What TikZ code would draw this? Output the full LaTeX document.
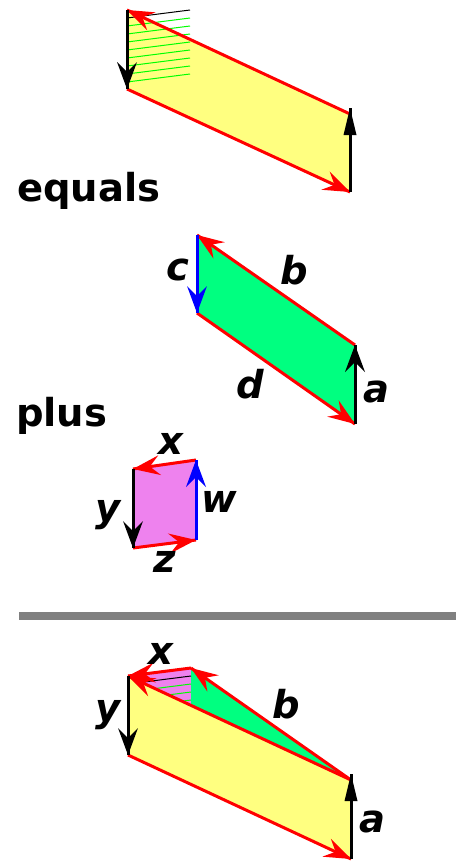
\documentclass[tikz,border=0pt]{standalone}
\usepackage{fontspec}
\setmainfont{DejaVu Sans}
\usetikzlibrary{arrows.meta}
\definecolor{pyellow}{RGB}{255,255,128}
\definecolor{pgreen}{RGB}{0,255,128}
\definecolor{pviolet}{RGB}{238,130,238}
\definecolor{pgray}{RGB}{128,128,128}
\pgfarrowsdeclare{bigtip}{bigtip}{\pgfarrowsrightextend{0pt}\pgfarrowsleftextend{-16pt}}{%
  \pgfsetlinewidth{0pt}%
  \pgfpathmoveto{\pgfpoint{0pt}{0pt}}%
  \pgfpathlineto{\pgfpoint{-27pt}{10pt}}%
  \pgfpathlineto{\pgfpoint{-17pt}{0pt}}%
  \pgfpathlineto{\pgfpoint{-27pt}{-10pt}}%
  \pgfpathclose
  \pgfusepathqfill
}
\pgfarrowsdeclare{slimtip}{slimtip}{\pgfarrowsrightextend{0pt}\pgfarrowsleftextend{-20pt}}{%
  \pgfsetlinewidth{0pt}%
  \pgfpathmoveto{\pgfpoint{0pt}{0pt}}%
  \pgfpathlineto{\pgfpoint{-27pt}{6.5pt}}%
  \pgfpathlineto{\pgfpoint{-27pt}{-6.5pt}}%
  \pgfpathclose
  \pgfusepathqfill
}
\tikzset{
  x=1pt,y=-1pt,
  edge/.style={line width=3pt,-bigtip},
  red edge/.style={edge,draw=red,fill=red},
  black edge/.style={edge,draw=black},
  slim edge/.style={line width=3pt,draw=black,-slimtip},
  blue edge/.style={edge,draw=blue},
  word/.style={font=\bfseries\fontsize{38.5}{42}\selectfont,anchor=base west,inner sep=0pt},
  letter/.style={font=\bfseries\itshape\fontsize{38.5}{42}\selectfont,anchor=base,inner sep=0pt},
  hatch/.style={line width=1pt,draw=green},
  hatchk/.style={line width=1pt,draw=black}
}
\begin{document}
\begin{tikzpicture}
\useasboundingbox (0,0) rectangle (462,862);
% top parallelogram
\coordinate (a1) at (127,10);
\coordinate (b1) at (127,89);
\coordinate (c1) at (350,192);
\coordinate (d1) at (350,114);
\coordinate (t1) at (350,108);
\fill[pyellow] (a1)--(b1)--(c1)--(d1)--cycle;
\draw[hatchk] (127,18)--(190,10);
\foreach \y in {18,26,34,42,50,58,66,74}{
  \draw[hatch] (127,\y+8)--(190,\y);
}
\draw[red edge] (d1)--(a1);
\draw[red edge] (b1)--(c1);
\draw[black edge] (a1)--(b1);
\draw[slim edge] (c1)--(t1);
\node[word] (equals) at (17,201) {equals};
% middle parallelogram
\coordinate (a2) at (197,235);
\coordinate (b2) at (197,313);
\coordinate (c2) at (355,424);
\coordinate (d2) at (355,345);
\fill[pgreen] (a2)--(b2)--(c2)--(d2)--cycle;
\draw[red edge] (d2)--(a2);
\draw[red edge] (b2)--(c2);
\draw[blue edge] (a2)--(b2);
\draw[black edge] (c2)--(d2);
\node[letter] (lc) at (178,280) {c};
\node[letter] (lb) at (294,284) {b};
\node[letter] (ld) at (250,398) {d};
\node[letter] (la) at (376,402) {a};
\node[word] (plus) at (16,426) {plus};
% small rectangle
\coordinate (a3) at (133,469);
\coordinate (b3) at (133,548);
\coordinate (c3) at (196,540);
\coordinate (d3) at (196,460);
\fill[pviolet] (a3)--(b3)--(c3)--(d3)--cycle;
\draw[red edge] (d3)--(a3);
\draw[red edge] (b3)--(c3);
\draw[black edge] (a3)--(b3);
\draw[blue edge] (c3)--(d3);
\node[letter] (lx) at (171,454) {x};
\node[letter] (ly) at (108,521) {y};
\node[letter] (lw) at (219,512) {w};
\node[letter] (lz) at (165,572) {z};
% rule
\coordinate (r1) at (19,616);
\coordinate (r2) at (456,616);
\draw[pgray,line width=8pt] (r1)--(r2);
% bottom figure
\coordinate (a4) at (128,676);
\coordinate (b4) at (128,755);
\coordinate (c4) at (351,859);
\coordinate (d4) at (351,780);
\coordinate (t4) at (351,774);
\coordinate (e4) at (191,668);
\coordinate (f4) at (191,705);
\fill[pviolet] (a4)--(e4)--(f4)--cycle;
\fill[pgreen] (e4)--(d4)--(f4)--cycle;
\begin{scope}
\clip (a4)--(e4)--(f4)--cycle;
\draw[hatchk] (128,684)--(191,676);
\foreach \y in {684,692,700}{
  \draw[hatch] (128,\y+8)--(191,\y);
}
\end{scope}
\fill[pyellow] (a4)--(b4)--(c4)--(d4)--cycle;
\draw[red edge] (d4)--(e4);
\draw[red edge] (e4)--(a4);
\draw[red edge] (d4)--(a4);
\draw[red edge] (b4)--(c4);
\draw[black edge] (a4)--(b4);
\draw[slim edge] (c4)--(t4);
\node[letter] (lx2) at (161,664) {x};
\node[letter] (ly2) at (108,721) {y};
\node[letter] (lb2) at (286,718) {b};
\node[letter] (la2) at (372,832) {a};
\end{tikzpicture}
\end{document}
